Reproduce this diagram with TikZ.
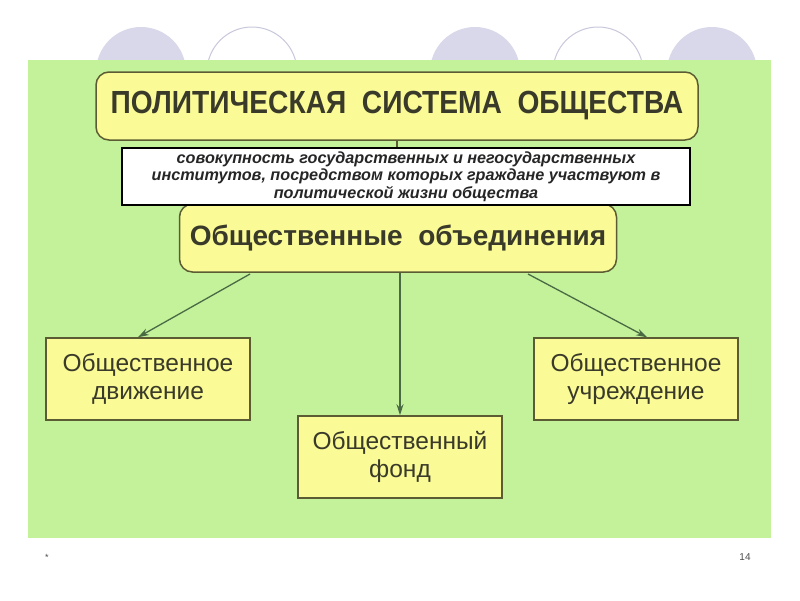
\documentclass[tikz,border=0pt]{standalone}
\usepackage{fontspec}
\setmainfont{Liberation Sans}
\newfontfamily\cond[FakeStretch=0.88]{Liberation Sans}
\usetikzlibrary{arrows.meta}
\definecolor{bggreen}{HTML}{C4F29A}
\definecolor{boxyellow}{HTML}{FAFA96}
\definecolor{boxline}{HTML}{5C5C34}
\definecolor{txt}{HTML}{3A3A2A}
\definecolor{lav}{HTML}{D8D8EA}
\definecolor{circline}{HTML}{C8C8DC}
\definecolor{arr}{HTML}{4A6A44}
\tikzset{
  ybox/.style={draw=boxline, line width=1.5pt, fill=boxyellow, text=txt},
  leaf/.style={ybox, minimum width=204pt, minimum height=82pt, align=center,
     font=\fontsize{24.5}{28}\selectfont},
  conn/.style={draw=arr, line width=1.3pt, -{Stealth[length=11pt,width=7pt]}},
}
\begin{document}
\begin{tikzpicture}[x=1pt,y=-1pt]
\useasboundingbox (0,0) rectangle (800,600);
\fill[white] (0,0) rectangle (800,600);
% circles
\foreach \cx in {141,475,712}{\fill[lav] (\cx,72) circle (45);}
\foreach \cx in {252,598}{\draw[circline, line width=1pt, fill=white] (\cx,72) circle (45);}
% green panel
\fill[bggreen] (28,60) rectangle (771,538);
% top box
\node[ybox, rounded corners=13pt, minimum width=602pt, minimum height=68pt,
  font=\cond\bfseries\fontsize{32}{34}\selectfont] (top) at (397,106)
  {ПОЛИТИЧЕСКАЯ\ \ СИСТЕМА\ \ ОБЩЕСТВА};
% second box
\node[ybox, rounded corners=13pt, minimum width=437pt, minimum height=68pt,
  font=\bfseries\fontsize{28}{30}\selectfont] (mid) at (398,238)
  {Общественные\ \ объединения};
% definition box
\node[draw=black, line width=2pt, fill=white, minimum width=568pt, minimum height=57pt,
  align=center, font=\bfseries\itshape\fontsize{16.2}{17.5}\selectfont, text=black!85, inner sep=0pt] (def) at (406,176.5)
  {совокупность государственных и негосударственных\\
   институтов, посредством которых граждане участвуют в\\
   политической жизни общества};
\draw[boxline, line width=1.3pt] (top.south) -- (def.north -| top.south);
% leaves
\node[leaf] (l) at (148,379) {Общественное\\движение};
\node[leaf] (r) at (636,379) {Общественное\\учреждение};
\node[leaf] (c) at (400,457) {Общественный\\фонд};
% connectors
\coordinate (ml) at (250,274);
\coordinate (mr) at (528,274);
\draw[conn] (ml) -- ([xshift=-10pt]l.north);
\draw[conn] (mid.south -| c.north) -- (c.north);
\draw[conn] (mr) -- ([xshift=11pt]r.north);
% footer
\node[font=\fontsize{9}{10}\selectfont, text=black!70] (star) at (47,557) {*};
\node[font=\fontsize{10}{11}\selectfont, text=black!70] (pg) at (745,557) {14};
\end{tikzpicture}
\end{document}
